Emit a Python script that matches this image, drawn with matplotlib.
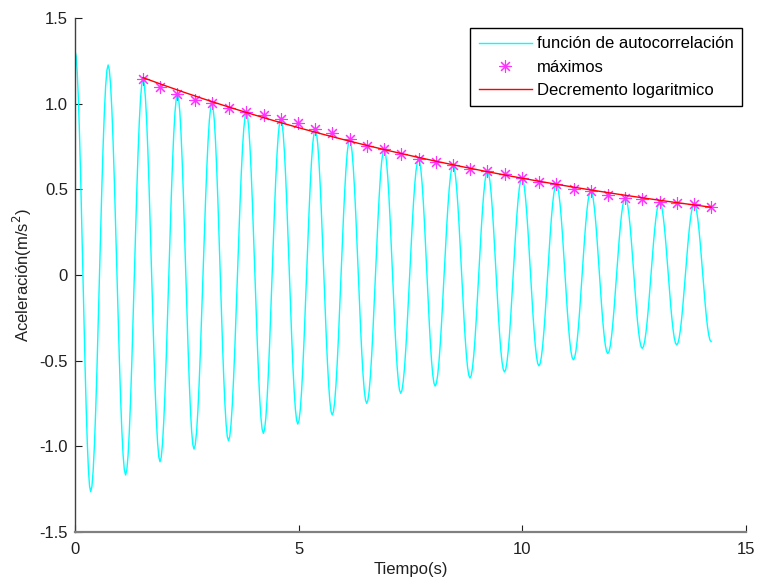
import numpy as np
import matplotlib
matplotlib.use("Agg")
import matplotlib.pyplot as plt

plt.rcParams["font.family"] = ["Liberation Sans", "DejaVu Sans"]

# Extrema of the autocorrelation function (time in s, acceleration in m/s^2)
extrema_t = [0.00, 0.35, 0.74, 1.13, 1.52, 1.90, 2.29, 2.66, 3.06, 3.43,
             3.83, 4.21, 4.60, 4.98, 5.37, 5.75, 6.14, 6.52, 6.91, 7.28,
             7.68, 8.05, 8.45, 8.83, 9.22, 9.60, 9.99, 10.37, 10.76, 11.14,
             11.53, 11.91, 12.30, 12.68, 13.07, 13.45, 13.84, 14.22]
extrema_v = [1.31, -1.265, 1.226, -1.167, 1.144, -1.090, 1.055, -1.016, 1.003, -0.967,
             0.950, -0.924, 0.911, -0.870, 0.851, -0.817, 0.792, -0.749, 0.734, -0.690,
             0.677, -0.648, 0.642, -0.601, 0.607, -0.566, 0.568, -0.530, 0.530, -0.495,
             0.492, -0.458, 0.451, -0.428, 0.428, -0.408, 0.415, -0.389]

# Detected maxima
max_t = [1.52, 1.905, 2.29, 2.675, 3.06, 3.445, 3.83, 4.215, 4.60, 4.985,
         5.37, 5.755, 6.14, 6.525, 6.91, 7.295, 7.68, 8.065, 8.45, 8.835,
         9.22, 9.605, 9.99, 10.375, 10.76, 11.145, 11.53, 11.915, 12.30, 12.685,
         13.07, 13.455, 13.84, 14.225]
max_v = [1.144, 1.100, 1.055, 1.022, 1.003, 0.977, 0.950, 0.934, 0.911, 0.886,
         0.851, 0.830, 0.792, 0.755, 0.734, 0.707, 0.677, 0.658, 0.642, 0.617,
         0.607, 0.590, 0.568, 0.545, 0.530, 0.502, 0.492, 0.467, 0.451, 0.442,
         0.428, 0.422, 0.415, 0.396]

# Logarithmic decrement envelope: end points of the exponential fit
decay_t = [1.52, 14.22]
decay_v = [1.152, 0.396]

xticks = [0, 5, 10, 15]
xtick_labels = ["0", "5", "10", "15"]
yticks = [-1.5, -1.0, -0.5, 0.0, 0.5, 1.0, 1.5]
ytick_labels = ["-1.5", "-1.0", "-0.5", "0", "0.5", "1.0", "1.5"]

# Smooth half-cosine transitions between successive extrema
sig_t, sig_v = [], []
for i in range(len(extrema_t) - 1):
    s = np.linspace(0, 1, 14, endpoint=False)
    t0, t1 = extrema_t[i], extrema_t[i + 1]
    v0, v1 = extrema_v[i], extrema_v[i + 1]
    sig_t.append(t0 + (t1 - t0) * s)
    sig_v.append(v0 + (v1 - v0) * (1 - np.cos(np.pi * s)) / 2)
sig_t.append([extrema_t[-1]])
sig_v.append([extrema_v[-1]])
sig_t = np.concatenate(sig_t)
sig_v = np.concatenate(sig_v)

# Exponential envelope (straight in log space)
env_t = np.linspace(decay_t[0], decay_t[1], 200)
env_v = np.exp(np.interp(env_t, decay_t, np.log(decay_v)))

fig = plt.figure(figsize=(7.57, 5.81), dpi=100)
ax = fig.add_axes([0.0991, 0.0843, 0.8864, 0.8847])

ax.plot(sig_t, sig_v, color="#00FFFF", lw=1.0, label="función de autocorrelación")
ax.plot(max_t, max_v, linestyle="none", marker=(8, 2, 0), color="#FF33FF",
        markersize=9, markeredgewidth=0.8, label="máximos")
ax.plot(env_t, env_v, color="#FF0000", lw=1.0, label="Decremento logaritmico")

ax.set_xlim(0, 15)
ax.set_ylim(-1.5, 1.5)
ax.set_xticks(xticks)
ax.set_xticklabels(xtick_labels)
ax.set_yticks(yticks)
ax.set_yticklabels(ytick_labels)

ax.spines["top"].set_visible(False)
ax.spines["right"].set_visible(False)
ax.spines["left"].set_color("#404040")
ax.spines["left"].set_linewidth(1.0)
ax.spines["bottom"].set_color("#808080")
ax.spines["bottom"].set_linewidth(1.6)

ax.tick_params(axis="both", direction="in", length=5, width=0.8,
               colors="#202020", labelsize=12, labelcolor="#202020")
ax.tick_params(axis="x", pad=7)
ax.tick_params(axis="y", pad=5)

ax.set_xlabel("Tiempo(s)", fontsize=12, labelpad=4, color="#202020")
ax.set_ylabel("Aceleración(m/s$^2$)", fontsize=12, labelpad=4, color="#202020")

leg = ax.legend(loc="upper right", bbox_to_anchor=(0.994, 0.9805), fontsize=12,
                frameon=True, fancybox=False, framealpha=1, edgecolor="black",
                borderpad=0.5, labelspacing=0.5, handlelength=3.2,
                handletextpad=0.3, borderaxespad=0)
leg.get_frame().set_linewidth(1.0)

fig.savefig("out.png", dpi=100)
